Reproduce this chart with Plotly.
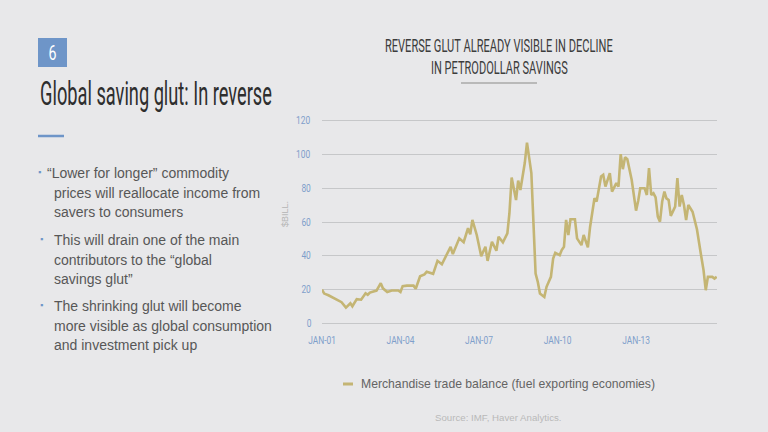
import plotly.graph_objects as go

# ---- data ----
dates = [
    "2001-01", "2001-02", "2001-04", "2001-08", "2001-10", "2001-12",
    "2002-02", "2002-03", "2002-05", "2002-07", "2002-09", "2002-10", "2002-11",
    "2003-02", "2003-04", "2003-05", "2003-07", "2003-09", "2003-12",
    "2004-01", "2004-02", "2004-04", "2004-07", "2004-08", "2004-10", "2004-12",
    "2005-01", "2005-04", "2005-06", "2005-08", "2005-12",
    "2006-01", "2006-04", "2006-06", "2006-08", "2006-09", "2006-10", "2006-12",
    "2007-02", "2007-04", "2007-05", "2007-07", "2007-09", "2007-10", "2007-12",
    "2008-02", "2008-03", "2008-04", "2008-06", "2008-07", "2008-08", "2008-10", "2008-11",
    "2009-01", "2009-02", "2009-03", "2009-04", "2009-05", "2009-07", "2009-08", "2009-10", "2009-11", "2009-12",
    "2010-02", "2010-03", "2010-04", "2010-05", "2010-06", "2010-07", "2010-09", "2010-10", "2010-12",
    "2011-01", "2011-03", "2011-04", "2011-06", "2011-07", "2011-08", "2011-09", "2011-10", "2011-11",
    "2012-01", "2012-02", "2012-04", "2012-05", "2012-06", "2012-07", "2012-08", "2012-09", "2012-11",
    "2013-01", "2013-02", "2013-03", "2013-05", "2013-06", "2013-07", "2013-08", "2013-09", "2013-10", "2013-11", "2013-12",
    "2014-01", "2014-02", "2014-03", "2014-04", "2014-05", "2014-07", "2014-08", "2014-09", "2014-10", "2014-11", "2014-12",
    "2015-01", "2015-03", "2015-05", "2015-07", "2015-08", "2015-09", "2015-10", "2015-12", "2016-01", "2016-02",
]
trade_balance = [
    20.0, 17.6, 16.6, 14.0, 12.5, 9.3,
    11.9, 10.1, 14.3, 14.0, 17.8, 16.9, 18.2,
    19.4, 23.8, 20.7, 18.5, 19.4, 19.4,
    18.5, 22.0, 22.3, 22.3, 20.5, 27.9, 29.0,
    30.5, 29.3, 37.0, 35.0, 45.3,
    41.0, 50.3, 48.0, 56.3, 52.7, 61.2, 52.3,
    39.8, 45.3, 37.0, 48.3, 43.0, 51.3, 48.0,
    53.3, 65.2, 86.3, 73.0, 84.5, 79.0, 94.9, 107.0,
    89.0, 55.3, 29.5, 24.5, 17.6, 15.6, 21.6, 27.5, 38.4, 41.8,
    40.4, 43.4, 45.3, 61.2, 52.3, 61.6, 61.6, 50.3, 46.3,
    52.3, 45.0, 57.2, 74.1, 72.1, 79.0, 86.9, 87.9, 81.0,
    89.0, 78.0, 83.0, 81.0, 100.2, 91.3, 98.4, 97.2, 85.0,
    66.7, 72.7, 80.0, 80.0, 76.0, 91.9, 76.0, 77.0, 74.6, 63.2, 60.2,
    72.1, 78.0, 74.0, 73.0, 63.6, 69.1, 86.0, 69.1, 76.0, 70.1, 61.2,
    70.1, 66.1, 55.7, 39.4, 31.5, 19.6, 27.5, 27.5, 26.5, 27.5,
]
x_tick_vals = ["2001-01-01", "2004-01-01", "2007-01-01", "2010-01-01", "2013-01-01"]
x_tick_text = ["JAN-01", "JAN-04", "JAN-07", "JAN-10", "JAN-13"]
y_tick_vals = [0, 20, 40, 60, 80, 100, 120]

series_name = "Merchandise trade balance (fuel exporting economies)"
chart_title_lines = ["REVERSE GLUT ALREADY VISIBLE IN DECLINE", "IN PETRODOLLAR SAVINGS"]
slide_title = "Global saving glut: In reverse"
slide_number = "6"
bullets = [
    ["\u201cLower for longer\u201d commodity", "prices will reallocate income from", "savers to consumers"],
    ["This will drain one of the main", "contributors to the \u201cglobal", "savings glut\u201d"],
    ["The shrinking glut will become", "more visible as global consumption", "and investment pick up"],
]
source_text = "Source: IMF, Haver Analytics."

# ---- styling ----
W, H = 768, 432
L, R, T, B = 322, 51, 119, 107
BG = "#e8e8ea"
LINE = "#c4b574"
BLUE = "#6e95c8"
TICK = "#7f9fcb"
DISPLAY = "Roboto, Liberation Sans, sans-serif"
BODY = "Liberation Sans, Arial, sans-serif"

pw = W - L - R
ph = H - T - B


def px(x):
    return (x - L) / pw


def py(y):
    return (H - B - y) / ph


fig = go.Figure()
fig.add_trace(go.Scatter(
    x=dates, y=trade_balance, mode="lines", name=series_name,
    line=dict(color=LINE, width=2.6), showlegend=False, hoverinfo="skip",
))

ann = []
squeeze = []  # (annotation index, target width px, anchor)


def add(**kw):
    ann.append(dict(xref="paper", yref="paper", showarrow=False, **kw))
    return len(ann) - 1


i = add(x=px(52.5), y=py(53), text=slide_number,
        font=dict(family=DISPLAY, size=20, color="white"), xanchor="center", yanchor="middle")
squeeze.append((i, 8, "center"))
i = add(x=px(38), y=py(93.5), text=slide_title,
        font=dict(family=DISPLAY, size=33, color="#2e2e2e"), xanchor="left", yanchor="middle")
squeeze.append((i, 232, "left"))

line_h = 19.6
starts = [173, 240, 306]
for bi, lines in enumerate(bullets):
    y0 = starts[bi]
    add(x=px(39.5 if bi == 0 else 41), y=py(y0 - 1), text="\u25aa",
        font=dict(family=BODY, size=9, color=BLUE), xanchor="center", yanchor="middle")
    for li, t in enumerate(lines):
        xx = 44.5 if (bi == 0 and li == 0) else 51.5
        add(x=px(xx), y=py(y0 + li * line_h), text=t,
            font=dict(family=BODY, size=14, color="#575757"), xanchor="left", yanchor="middle")

i = add(x=px(499), y=py(46), text=chart_title_lines[0],
        font=dict(family=DISPLAY, size=17.5, color="#3c3c3c"), xanchor="center", yanchor="middle")
squeeze.append((i, 228, "center"))
i = add(x=px(499), y=py(67.5), text=chart_title_lines[1],
        font=dict(family=DISPLAY, size=17.5, color="#3c3c3c"), xanchor="center", yanchor="middle")
squeeze.append((i, 137, "center"))

add(x=px(285), y=py(214), text="$BILL.", font=dict(family=BODY, size=9, color="#b5b5b5"),
    textangle=-90, xanchor="center", yanchor="middle")
add(x=px(359), y=py(384), text=series_name, font=dict(family=BODY, size=12.2, color="#646464"),
    xanchor="left", yanchor="middle")
add(x=px(498), y=py(417), text=source_text, font=dict(family=BODY, size=9.7, color="#b9b9b9"),
    xanchor="center", yanchor="middle")

shapes = [
    dict(type="rect", xref="paper", yref="paper", x0=px(38), x1=px(67), y0=py(38), y1=py(67),
         fillcolor=BLUE, line=dict(width=0)),
    dict(type="line", xref="paper", yref="paper", x0=px(38), x1=px(64), y0=py(136), y1=py(136),
         line=dict(color=BLUE, width=2.5)),
    dict(type="line", xref="paper", yref="paper", x0=px(461), x1=px(537), y0=py(83), y1=py(83),
         line=dict(color="#b9b9b9", width=2)),
    dict(type="line", xref="paper", yref="paper", x0=px(343), x1=px(353), y0=py(384), y1=py(384),
         line=dict(color=LINE, width=3)),
]

fig.update_layout(
    width=W, height=H,
    margin=dict(l=L, r=R, t=T, b=B, pad=0),
    paper_bgcolor=BG, plot_bgcolor=BG,
    showlegend=False, hovermode=False,
    annotations=ann, shapes=shapes,
    xaxis=dict(
        type="date", range=["2001-01-01", "2016-02-05"],
        tickvals=x_tick_vals, ticktext=x_tick_text,
        showgrid=False, zeroline=False, showline=False, ticks="", ticklabelstandoff=8,
        tickfont=dict(family=DISPLAY, size=10.5, color=TICK),
    ),
    yaxis=dict(
        range=[-1, 121], tickvals=y_tick_vals,
        showgrid=True, gridcolor="#c6c7c9", gridwidth=1,
        zeroline=False, showline=False, ticks="", ticklabelstandoff=9,
        tickfont=dict(family=DISPLAY, size=10.5, color=TICK),
    ),
)

# condensed display type: compress those texts horizontally to the reference widths
sq_js = ",".join("[%d,%s,'%s']" % (a, w, anc) for a, w, anc in squeeze)
post = """
document.body.style.margin='0';
var gd=document.getElementById('{plot_id}');
function sx(t,k,anchor){
  var b=t.getBBox();
  var x0=(anchor==='left')?b.x:b.x+b.width/2;
  var old=t.getAttribute('transform')||'';
  t.setAttribute('transform',old+' translate('+x0+',0) scale('+k+',1) translate('+(-x0)+',0)');
}
[%s].forEach(function(s){
  var t=gd.querySelector('.annotation[data-index="'+s[0]+'"] text');
  if(!t) return;
  sx(t, s[1]/t.getBBox().width, s[2]);
});
gd.querySelectorAll('.xtick text, .ytick text').forEach(function(t){ sx(t,0.8,'center'); });
""" % sq_js

fig.write_html("out.html", post_script=post, config={"displayModeBar": False, "staticPlot": True})
